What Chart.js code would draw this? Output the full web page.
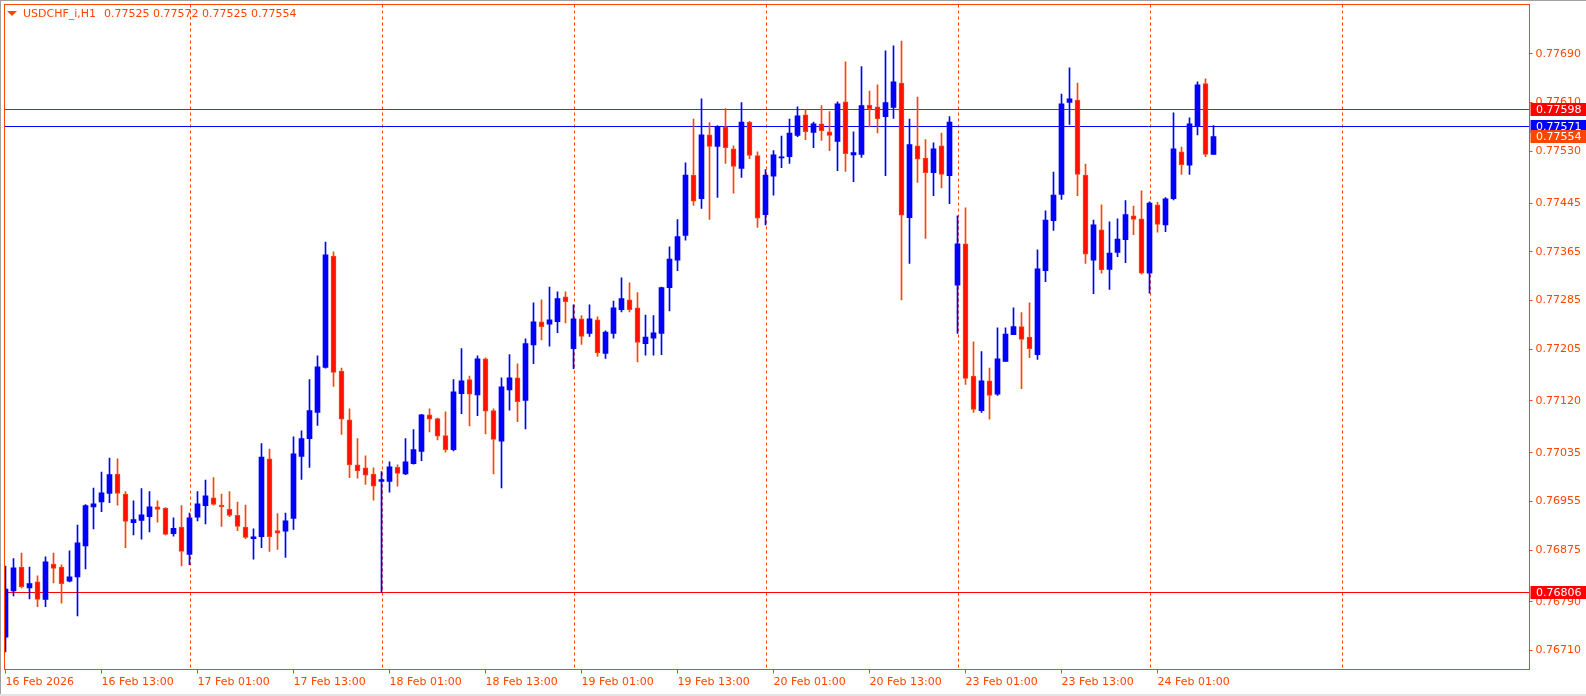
<!DOCTYPE html>
<html><head><meta charset="utf-8">
<script src="https://cdn.jsdelivr.net/npm/chart.js@4.4.1/dist/chart.umd.min.js"></script>
<style>html,body{margin:0;padding:0;background:#fff;overflow:hidden}canvas{display:block}</style>
</head><body>
<canvas id="c" width="1586" height="696"></canvas>
<script>
const symbolTitle = "USDCHF_i,H1";
const titleValues = "0.77525 0.77572 0.77525 0.77554";

const open = [
0.76732,0.76808,0.76847,0.76813,0.76823,0.76794,0.76852,0.76847,0.76824,0.76831,
0.76882,0.76946,0.76954,0.76968,0.77000,0.76967,0.76920,0.76924,0.76930,0.76946,
0.76944,0.76902,0.76913,0.76868,0.76929,0.76948,0.76961,0.76949,0.76942,0.76932,
0.76913,0.76894,0.76897,0.77025,0.76907,0.76906,0.76927,0.77029,0.77058,0.77101,
0.77175,0.77358,0.77169,0.77089,0.77015,0.77010,0.77000,0.76988,0.76988,0.77011,
0.77000,0.77017,0.77037,0.77097,0.77091,0.77063,0.77040,0.77132,0.77155,0.77130,
0.77189,0.77104,0.77054,0.77138,0.77158,0.77121,0.77212,0.77250,0.77246,0.77250,
0.77291,0.77206,0.77255,0.77231,0.77253,0.77198,0.77231,0.77270,0.77286,0.77273,
0.77214,0.77223,0.77231,0.77306,0.77351,0.77392,0.77491,0.77452,0.77557,0.77538,
0.77570,0.77534,0.77502,0.77578,0.77523,0.77426,0.77489,0.77519,0.77521,0.77556,
0.77590,0.77561,0.77575,0.77562,0.77546,0.77611,0.77524,0.77525,0.77606,0.77603,
0.77587,0.77602,0.77642,0.77421,0.77539,0.77519,0.77495,0.77539,0.77490,0.77310,
0.77378,0.77161,0.77104,0.77153,0.77131,0.77185,0.77229,0.77242,0.77225,0.77196,
0.77334,0.77416,0.77459,0.77610,0.77614,0.77491,0.77351,0.77401,0.77336,0.77364,
0.77385,0.77424,0.77419,0.77330,0.77442,0.77409,0.77452,0.77529,0.77507,0.77572,
0.77641,0.77525];
const high = [
0.76849,0.76861,0.76870,0.76847,0.76833,0.76864,0.76870,0.76851,0.76874,0.76916,
0.76950,0.76977,0.77003,0.77026,0.77025,0.76971,0.76956,0.76976,0.76971,0.76956,
0.76945,0.76928,0.76948,0.76936,0.76971,0.76990,0.76994,0.76967,0.76971,0.76954,
0.76949,0.76910,0.77050,0.77041,0.76935,0.76936,0.77061,0.77071,0.77155,0.77194,
0.77381,0.77365,0.77174,0.77107,0.77058,0.77030,0.77010,0.77004,0.77020,0.77015,
0.77058,0.77073,0.77098,0.77107,0.77092,0.77102,0.77155,0.77206,0.77161,0.77194,
0.77191,0.77107,0.77158,0.77196,0.77181,0.77222,0.77281,0.77286,0.77307,0.77299,
0.77299,0.77278,0.77260,0.77278,0.77258,0.77235,0.77284,0.77322,0.77314,0.77298,
0.77261,0.77260,0.77307,0.77373,0.77418,0.77511,0.77583,0.77616,0.77577,0.77572,
0.77600,0.77539,0.77610,0.77579,0.77529,0.77500,0.77531,0.77555,0.77583,0.77603,
0.77598,0.77578,0.77605,0.77595,0.77611,0.77677,0.77562,0.77669,0.77629,0.77639,
0.77695,0.77703,0.77711,0.77583,0.77619,0.77549,0.77544,0.77560,0.77587,0.77424,
0.77437,0.77217,0.77201,0.77174,0.77240,0.77240,0.77273,0.77265,0.77281,0.77368,
0.77432,0.77496,0.77624,0.77667,0.77642,0.77509,0.77417,0.77442,0.77414,0.77419,
0.77449,0.77440,0.77465,0.77447,0.77446,0.77454,0.77593,0.77537,0.77585,0.77644,
0.77649,0.77572];
const low = [
0.76708,0.76800,0.76813,0.76795,0.76782,0.76782,0.76821,0.76788,0.76823,0.76767,
0.76844,0.76910,0.76938,0.76953,0.76949,0.76879,0.76900,0.76893,0.76905,0.76921,
0.76900,0.76898,0.76849,0.76851,0.76923,0.76918,0.76949,0.76914,0.76930,0.76907,
0.76894,0.76860,0.76879,0.76873,0.76876,0.76863,0.76909,0.76991,0.77011,0.77080,
0.77174,0.77144,0.77065,0.76994,0.76993,0.76983,0.76957,0.76806,0.76970,0.76980,
0.76999,0.77016,0.77022,0.77069,0.77056,0.77036,0.77038,0.77099,0.77079,0.77096,
0.77066,0.77000,0.76977,0.77105,0.77086,0.77074,0.77181,0.77220,0.77210,0.77232,
0.77248,0.77173,0.77213,0.77226,0.77193,0.77190,0.77223,0.77266,0.77266,0.77184,
0.77195,0.77195,0.77196,0.77268,0.77334,0.77384,0.77441,0.77436,0.77418,0.77454,
0.77510,0.77461,0.77487,0.77518,0.77405,0.77409,0.77458,0.77503,0.77510,0.77554,
0.77549,0.77536,0.77548,0.77531,0.77498,0.77497,0.77480,0.77520,0.77570,0.77560,
0.77490,0.77584,0.77286,0.77346,0.77479,0.77387,0.77457,0.77470,0.77444,0.77231,
0.77147,0.77101,0.77101,0.77090,0.77129,0.77185,0.77229,0.77140,0.77191,0.77188,
0.77316,0.77400,0.77451,0.77574,0.77457,0.77346,0.77296,0.77330,0.77303,0.77357,
0.77347,0.77393,0.77328,0.77297,0.77397,0.77398,0.77450,0.77492,0.77492,0.77557,
0.77521,0.77525];
const close = [
0.76811,0.76846,0.76815,0.76820,0.76794,0.76856,0.76845,0.76820,0.76831,0.76887,
0.76948,0.76951,0.76969,0.76999,0.76968,0.76922,0.76925,0.76933,0.76946,0.76942,
0.76901,0.76911,0.76873,0.76928,0.76951,0.76964,0.76950,0.76946,0.76932,0.76914,
0.76896,0.76897,0.77028,0.76897,0.76903,0.76923,0.77033,0.77058,0.77104,0.77176,
0.77360,0.77167,0.77090,0.77015,0.77005,0.76998,0.76980,0.76991,0.77012,0.77001,
0.77020,0.77040,0.77097,0.77090,0.77062,0.77040,0.77135,0.77153,0.77131,0.77189,
0.77103,0.77057,0.77143,0.77158,0.77119,0.77214,0.77250,0.77242,0.77253,0.77288,
0.77283,0.77255,0.77226,0.77255,0.77199,0.77233,0.77273,0.77288,0.77270,0.77216,
0.77225,0.77232,0.77306,0.77353,0.77390,0.77491,0.77448,0.77557,0.77538,0.77570,
0.77536,0.77505,0.77578,0.77523,0.77420,0.77491,0.77524,0.77521,0.77560,0.77588,
0.77562,0.77575,0.77564,0.77556,0.77608,0.77526,0.77528,0.77605,0.77600,0.77583,
0.77610,0.77644,0.77425,0.77541,0.77517,0.77495,0.77534,0.77492,0.77578,0.77378,
0.77157,0.77106,0.77153,0.77129,0.77189,0.77230,0.77242,0.77221,0.77206,0.77337,
0.77417,0.77458,0.77608,0.77616,0.77492,0.77361,0.77409,0.77335,0.77363,0.77386,
0.77426,0.77418,0.77330,0.77445,0.77410,0.77452,0.77534,0.77508,0.77575,0.77639,
0.77525,0.77554];

const xTickBars = [0,12,24,36,48,60,72,84,96,108,120,132,144];
const xTickLabels = ["16 Feb 2026","16 Feb 13:00","17 Feb 01:00","17 Feb 13:00","18 Feb 01:00","18 Feb 13:00","19 Feb 01:00","19 Feb 13:00","20 Feb 01:00","20 Feb 13:00","23 Feb 01:00","23 Feb 13:00","24 Feb 01:00"];
const separatorBars = [23,47,71,95,119,143,167];
const yTickValues = [0.77690,0.77610,0.77530,0.77445,0.77365,0.77285,0.77205,0.77120,0.77035,0.76955,0.76875,0.76790,0.76710];
const levelValues = [0.77598,0.77571,0.76806];
const tagValues = [0.77598,0.77571,0.77554,0.76806];

const ORANGE = '#FF4500';
const BULL = '#0000FF';
const BEAR_FILL = '#FF1000';
const levelColors = ['#FF0000','#0000FF','#FF0000'];
const tagColors = ['#FF0000','#0000FF',ORANGE,'#FF0000'];
const FONT = '11px "DejaVu Sans"';

const isBull = open.map((o,i)=>close[i]>=o);
const bodies = open.map((o,i)=>({x:i, y:[o, close[i]]}));
const wicks = low.map((l,i)=>({x:i, y:[l, high[i]]}));

const mt5Plugin = {
  id:'mt5',
  beforeDatasetsDraw(chart){
    const {ctx, chartArea:a, scales:{x,y}} = chart;
    ctx.save();
    ctx.beginPath(); ctx.rect(a.left,a.top,a.right-a.left,a.bottom-a.top); ctx.clip();
    ctx.lineWidth = 1;
    ctx.strokeStyle = ORANGE;
    ctx.setLineDash([3,3]);
    for (const b of separatorBars){
      const px = Math.round(x.getPixelForValue(b)) + 0.5;
      ctx.beginPath(); ctx.moveTo(px,a.top); ctx.lineTo(px,a.bottom); ctx.stroke();
    }
    ctx.setLineDash([]);
    levelValues.forEach((v,k)=>{
      const py = Math.round(y.getPixelForValue(v)-0.5)+0.5;
      ctx.strokeStyle = levelColors[k];
      ctx.beginPath(); ctx.moveTo(a.left,py); ctx.lineTo(a.right,py); ctx.stroke();
    });
    ctx.restore();
  },
  afterDraw(chart){
    const {ctx, chartArea:a, scales:{y}} = chart;
    ctx.save();
    // frame
    ctx.strokeStyle = ORANGE; ctx.lineWidth = 1;
    ctx.strokeRect(a.left, a.top, a.right-a.left, a.bottom-a.top);
    // title
    ctx.fillStyle = ORANGE;
    ctx.beginPath(); ctx.moveTo(7,11); ctx.lineTo(17,11); ctx.lineTo(12,16); ctx.closePath(); ctx.fill();
    ctx.font = FONT; ctx.textBaseline = 'middle'; ctx.textAlign = 'left';
    ctx.fillText(symbolTitle, 23, 14);
    ctx.fillText(titleValues, 104, 14);
    // price tags
    tagValues.forEach((v,k)=>{
      const cy = y.getPixelForValue(v);
      const top = Math.round(cy - 6.5);
      ctx.fillStyle = tagColors[k];
      ctx.fillRect(a.right + 1, top, 1586 - a.right, 13);
      ctx.fillStyle = '#FFFFFF';
      ctx.fillText(v.toFixed(5), 1536, top + 7);
    });
    // window edges
    ctx.fillStyle = '#A0A0A0';
    ctx.fillRect(0,0,1586,1);
    ctx.fillRect(0,0,1,696);
    ctx.fillStyle = '#E3E3E3';
    ctx.fillRect(0,694,1586,2);
    ctx.restore();
  }
};

new Chart(document.getElementById('c').getContext('2d'), {
  type:'bar',
  data:{datasets:[
    {label:'body', data:bodies, stack:'c', barThickness:5, minBarLength:1,
     backgroundColor: isBull.map(b=>b?BULL:BEAR_FILL),
     borderColor: isBull.map(b=>b?BULL:ORANGE),
     borderWidth: isBull.map(b=>b?0:1),
     borderSkipped:false},
    {label:'wick', data:wicks, stack:'c', barThickness:1, minBarLength:1,
     backgroundColor: isBull.map(b=>b?BULL:ORANGE), borderWidth:0}
  ]},
  options:{
    responsive:false, animation:false, devicePixelRatio:1,
    layout:{padding:{left:4.5, top:4.5, right:0, bottom:0}, autoPadding:false},
    plugins:{legend:{display:false}, tooltip:{enabled:false}},
    scales:{
      x:{type:'linear', min:-0.125, max:190.5, offset:false,
        grid:{drawOnChartArea:false, drawTicks:true, tickLength:4, color:ORANGE, offset:false},
        border:{display:false},
        ticks:{autoSkip:false, maxRotation:0, minRotation:0, align:'start', padding:2, color:ORANGE,
          font:{family:'DejaVu Sans', size:11},
          callback:(v)=>{const k = xTickBars.indexOf(v); return k>=0 ? xTickLabels[k] : '';}},
        afterBuildTicks:(s)=>{ s.ticks = xTickBars.map(v=>({value:v})); },
        afterFit:(s)=>{ s.height = 26.5; s.paddingLeft = 0; s.paddingRight = 0; }
      },
      y:{type:'linear', position:'right', min:0.76679, max:0.77771, stacked:false, beginAtZero:false,
        grid:{drawOnChartArea:false, drawTicks:true, tickLength:3, color:ORANGE},
        border:{display:false},
        ticks:{padding:3, color:ORANGE, font:{family:'DejaVu Sans', size:11},
          callback:(v)=>Number(v).toFixed(5)},
        afterBuildTicks:(s)=>{ s.ticks = yTickValues.map(v=>({value:v})); },
        afterFit:(s)=>{ s.width = 56.5; s.paddingTop = 0; s.paddingBottom = 0; }
      }
    }
  },
  plugins:[mt5Plugin]
});
</script>
</body></html>
